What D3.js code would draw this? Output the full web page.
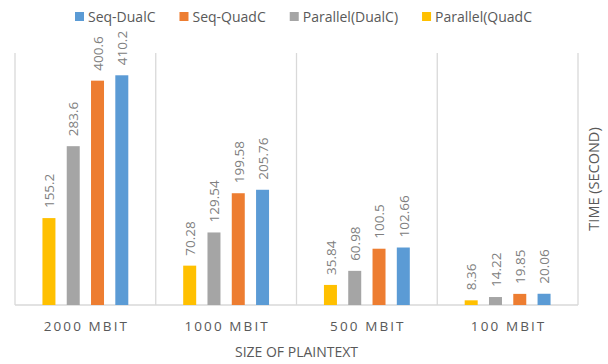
<!DOCTYPE html>
<html>
<head>
<meta charset="utf-8">
<script src="https://cdn.jsdelivr.net/npm/d3@7"></script>
<style>
  html, body { margin: 0; padding: 0; background: #fff; }
  svg { display: block; font-family: "Open Sans", sans-serif; }
</style>
</head>
<body>
<svg id="chart" width="608" height="364"></svg>
<script>
const categories = ["2000 MBIT", "1000 MBIT", "500 MBIT", "100 MBIT"];
const seriesNames = ["Parallel(QuadC", "Parallel(DualC)", "Seq-QuadC", "Seq-DualC"];
const parallelQuad = [155.2, 70.28, 35.84, 8.36];
const parallelDual = [283.6, 129.54, 60.98, 14.22];
const seqQuad = [400.6, 199.58, 100.5, 19.85];
const seqDual = [410.2, 205.76, 102.66, 20.06];
const legendOrder = ["Seq-DualC", "Seq-QuadC", "Parallel(DualC)", "Parallel(QuadC"];
const yTicks = [0, 450];

const colors = {
  "Seq-DualC": "#5B9BD5",
  "Seq-QuadC": "#ED7D31",
  "Parallel(DualC)": "#A5A5A5",
  "Parallel(QuadC": "#FFC000"
};
const seriesValues = [parallelQuad, parallelDual, seqQuad, seqDual];

const svg = d3.select("#chart");
const mLeft = 15, mRight = 578, mTop = 53, mBottom = 305;

const x0 = d3.scaleBand().domain(categories).range([mLeft, mRight]).padding(0);
const x1 = d3.scaleBand().domain(seriesNames).range([0, x0.bandwidth()])
  .paddingInner(0.465).paddingOuter(1.13);
const y = d3.scaleLinear().domain([yTicks[0], yTicks[1]]).range([mBottom, mTop]);

const grid = "#D9D9D9";
// vertical category separators
const bounds = categories.map(c => x0(c)).concat([mRight]);
svg.append("g").selectAll("line").data(bounds).join("line")
  .attr("x1", d => d).attr("x2", d => d)
  .attr("y1", mTop).attr("y2", mBottom)
  .attr("stroke", grid).attr("stroke-width", 1.3);
// baseline
svg.append("line").attr("x1", mLeft).attr("x2", mRight)
  .attr("y1", mBottom).attr("y2", mBottom)
  .attr("stroke", grid).attr("stroke-width", 1.3);

// bars
const flat = [];
categories.forEach((c, i) => {
  seriesNames.forEach((s, j) => {
    flat.push({ cat: c, series: s, value: seriesValues[j][i] });
  });
});

svg.append("g").selectAll("rect").data(flat).join("rect")
  .attr("x", d => x0(d.cat) + x1(d.series))
  .attr("width", x1.bandwidth())
  .attr("y", d => y(d.value))
  .attr("height", d => y(0) - y(d.value))
  .attr("fill", d => colors[d.series]);

// data labels
svg.append("g").selectAll("text").data(flat).join("text")
  .attr("transform", d => `translate(${x0(d.cat) + x1(d.series) + x1.bandwidth() / 2 + 0.5},${y(d.value) - 10}) rotate(-90)`)
  .attr("dy", "0.35em")
  .attr("text-anchor", "start")
  .attr("font-size", 13.5)
  .attr("fill", "#808080")
  .text(d => d.value);

// category labels
svg.append("g").selectAll("text").data(categories).join("text")
  .attr("x", d => x0(d) + x0.bandwidth() / 2 + 1)
  .attr("y", 331)
  .attr("text-anchor", "middle")
  .attr("font-size", 13.5)
  .attr("letter-spacing", "2.1px")
  .attr("fill", "#595959")
  .text(d => d);

// axis titles
svg.append("text")
  .attr("x", (mLeft + mRight) / 2)
  .attr("y", 357)
  .attr("text-anchor", "middle")
  .attr("font-size", 14)
  .attr("fill", "#595959")
  .text("SIZE OF PLAINTEXT");

svg.append("text")
  .attr("transform", "translate(594,179) rotate(-90)")
  .attr("dy", "0.35em")
  .attr("text-anchor", "middle")
  .attr("font-size", 14.5)
  .attr("fill", "#595959")
  .text("TIME (SECOND)");

// legend
const lg = svg.append("g");
let lx = 75;
legendOrder.forEach(name => {
  lg.append("rect").attr("x", lx).attr("y", 12).attr("width", 9).attr("height", 9)
    .attr("fill", colors[name]);
  const t = lg.append("text").attr("x", lx + 13).attr("y", 21.5)
    .attr("font-size", 14).attr("fill", "#595959").text(name);
  lx += 13 + t.node().getComputedTextLength() + 24;
});
</script>
</body>
</html>
